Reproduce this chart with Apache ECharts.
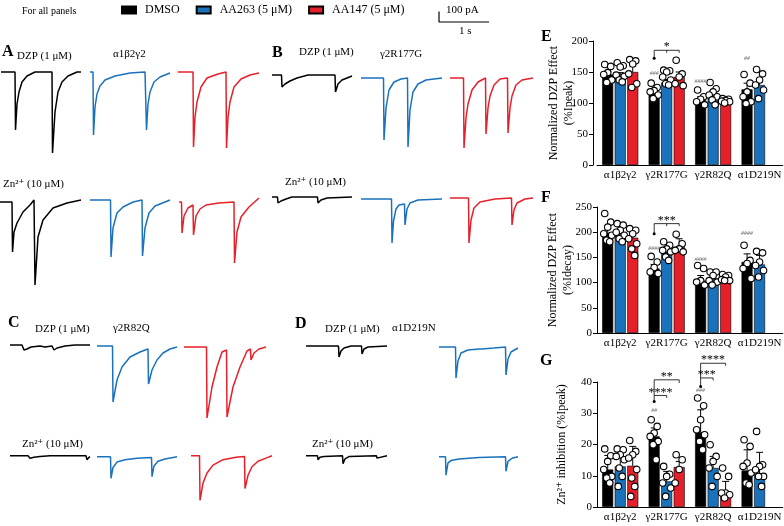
<!DOCTYPE html>
<html>
<head>
<meta charset="utf-8">
<script src="https://cdn.jsdelivr.net/npm/echarts/dist/echarts.min.js"></script>
<style>
html, body { margin: 0; padding: 0; background: #fff; }
#chart { width: 784px; height: 526px; }
</style>
</head>
<body>
<div id="chart"></div>
<script>
// ---- data ----
var categories = ['α1β2γ2', 'γ2R177G', 'γ2R82Q', 'α1D219N'];
var treatments = ['DMSO', 'AA263 (5 μM)', 'AA147 (5 μM)'];

// current traces, [time s, current pA], baseline = 0
var A_DZP_DMSO = [[0,0],[0.28,0],[0.29,-290],[0.32,-160],[0.36,-100],[0.42,-50],[0.52,-20],[0.68,0],[1.02,0],[1.03,-405],[1.08,-200],[1.14,-100],[1.22,-50],[1.34,-20],[1.52,0],[1.6,0]];
var A_DZP_AA263 = [[0,0],[0.06,0],[0.07,-315],[0.1,-175],[0.14,-110],[0.2,-70],[0.3,-40],[0.5,-20],[0.8,-5],[1.1,0],[1.12,0],[1.13,-290],[1.16,-160],[1.2,-100],[1.28,-50],[1.4,-25],[1.6,-5]];
var A_DZP_AA147 = [[0,0],[0.3,0],[0.31,-375],[0.34,-225],[0.38,-150],[0.46,-75],[0.58,-30],[0.8,-10],[0.96,0],[0.97,-380],[1.0,-225],[1.04,-150],[1.12,-75],[1.26,-35],[1.44,-15],[1.62,-5]];
var A_ZN_DMSO = [[0,0],[0.24,0],[0.25,-250],[0.28,-150],[0.34,-105],[0.46,-50],[0.6,-15],[0.68,10],[0.7,-415],[0.76,-175],[0.86,-90],[1.06,-30],[1.34,-5],[1.62,10]];
var A_ZN_AA263 = [[0,0],[0.41,0],[0.42,-285],[0.46,-140],[0.54,-65],[0.66,-35],[0.86,-10],[1.04,0],[1.05,-280],[1.1,-140],[1.18,-65],[1.3,-30],[1.5,-10],[1.6,0]];
var A_ZN_AA147 = [[0,0],[0.05,0],[0.06,-155],[0.1,-70],[0.18,-30],[0.28,-15],[0.29,-165],[0.34,-70],[0.42,-35],[0.54,-15],[0.8,-5],[1.1,0],[1.11,-305],[1.16,-150],[1.24,-75],[1.4,-25],[1.6,20]];

var B_DZP_DMSO = [[0,0],[0.19,0],[0.2,-60],[0.26,-45],[0.36,-30],[0.5,-15],[0.72,0],[1.26,0],[1.27,-85],[1.32,-45],[1.4,-25],[1.5,-15],[1.6,-5]];
var B_DZP_AA263 = [[0,0],[0.45,0],[0.46,-310],[0.5,-150],[0.56,-60],[0.66,-20],[0.8,-5],[0.93,0],[0.94,-345],[0.98,-160],[1.04,-70],[1.14,-30],[1.3,-10],[1.62,0]];
var B_DZP_AA147 = [[0,0],[0.27,0],[0.28,-350],[0.32,-200],[0.36,-130],[0.44,-60],[0.56,-20],[0.71,0],[0.72,-280],[0.76,-150],[0.8,-90],[0.88,-35],[1.0,-5],[1.15,0],[1.16,-275],[1.2,-150],[1.24,-90],[1.32,-35],[1.44,-10],[1.66,0]];
var B_ZN_DMSO = [[0,0],[0.11,0],[0.12,-30],[0.18,-20],[0.28,-10],[0.4,0],[0.91,0],[0.92,-30],[0.98,-15],[1.1,-5],[1.6,0]];
var B_ZN_AA263 = [[0,0],[0.61,0],[0.62,-220],[0.65,-110],[0.7,-50],[0.76,-30],[0.87,-25],[0.88,-130],[0.92,-50],[0.98,-20],[1.14,-5],[1.62,0]];
var B_ZN_AA147 = [[0,0],[0.37,0],[0.38,-225],[0.42,-110],[0.48,-50],[0.6,-20],[0.9,-5],[1.23,0],[1.24,-135],[1.28,-60],[1.34,-25],[1.5,-5],[1.66,0]];

var C_DZP_DMSO = [[0,0],[0.24,0],[0.28,-25],[0.34,-20],[0.42,-10],[0.6,-5],[0.64,-15],[0.7,-10],[0.84,-5],[0.88,-25],[0.94,-15],[1.1,-5],[1.3,0],[1.6,0]];
var C_DZP_AA263 = [[0,0],[0.31,0],[0.32,-280],[0.4,-170],[0.5,-105],[0.66,-55],[0.86,-30],[1.02,-15],[1.03,-190],[1.1,-120],[1.2,-70],[1.32,-35],[1.46,-15],[1.6,-5]];
var C_DZP_AA147 = [[0,0],[0.45,0],[0.46,-355],[0.56,-200],[0.66,-100],[0.76,-25],[0.78,-15],[0.85,-15],[0.86,-350],[0.98,-200],[1.12,-100],[1.26,-20],[1.33,-10],[1.34,-65],[1.4,-30],[1.5,-10],[1.64,0]];
var C_ZN_DMSO = [[0,0],[0.36,0],[0.4,-15],[0.48,-10],[0.6,-5],[0.8,0],[1.52,0],[1.54,-25],[1.58,-10],[1.6,-5]];
var C_ZN_AA263 = [[0,0],[0.27,0],[0.28,-140],[0.32,-70],[0.4,-35],[0.56,-20],[0.8,-10],[1.09,-5],[1.1,-130],[1.14,-60],[1.22,-30],[1.36,-15],[1.6,0]];
var C_ZN_AA147 = [[0,0],[0.17,0],[0.18,-285],[0.24,-175],[0.32,-110],[0.44,-60],[0.64,-25],[0.9,-10],[1.07,-5],[1.08,-210],[1.14,-125],[1.22,-70],[1.34,-35],[1.5,-15],[1.62,0]];

var D_DZP_DMSO = [[0,0],[0.65,0],[0.66,-55],[0.7,-25],[0.76,-10],[0.9,0],[1.11,0],[1.12,-40],[1.16,-15],[1.24,-5],[1.62,0]];
var D_DZP_AA263 = [[0,0],[0.33,0],[0.34,-155],[0.38,-70],[0.44,-30],[0.58,-15],[0.8,-10],[0.82,-20],[0.86,-10],[1.1,-5],[1.33,0],[1.34,-140],[1.38,-60],[1.44,-25],[1.58,-5]];
var D_ZN_DMSO = [[0,0],[0.23,0],[0.24,-25],[0.28,-10],[0.36,-5],[0.73,0],[0.74,-50],[0.78,-20],[0.86,-5],[1.41,0],[1.42,-15],[1.46,-5],[1.62,0]];
var D_ZN_AA263 = [[0,0],[0.13,0],[0.14,-120],[0.18,-40],[0.24,-25],[0.4,-15],[0.8,-5],[1.33,0],[1.34,-95],[1.38,-30],[1.46,-10],[1.58,0]];

// scale bar: 100 pA / 1 s
var SCALE_BAR = [[0,100],[0,0],[1,0]];

// E: normalized DZP effect (%Ipeak)
var E_DMSO = [146, 117, 105, 122];
var E_AA263 = [144, 133, 116, 129];
var E_AA147 = [150, 142, 103, null];
var E_ERR_DMSO = [5, 4, 5, 10];
var E_ERR_AA263 = [5, 5, 4, 5];
var E_ERR_AA147 = [10, 8, 2, null];
var E_PTS_DMSO = [[162,159,149,146,137,133],[132,125,120,118,113,107],[121,110,106,102,97],[146,132,118,110,102,99]];
var E_PTS_AA263 = [[165,160,158,145,143,137,134],[153,152,150,142,137,131,129],[133,123,118,113,110,105,97],[154,147,137,129,121,107]];
var E_PTS_AA147 = [[170,168,163,147,131,125],[169,147,142,131,128],[107,106,104,103,102,100],[]];

// F: normalized DZP effect (%Idecay)
var F_DMSO = [199, 128, 104, 141];
var F_AA263 = [197, 162, 108, 136];
var F_AA147 = [189, 171, 106, null];
var F_ERR_DMSO = [8, 8, 10, 16];
var F_ERR_AA263 = [6, 8, 4, 18];
var F_ERR_AA147 = [12, 16, 3, null];
var F_PTS_DMSO = [[237,220,210,197,194,184,181],[152,141,130,121,118],[134,128,104,101,95],[174,144,138,128,108]];
var F_PTS_AA263 = [[217,214,204,200,194,187,181],[181,174,167,164,161,151,144],[121,121,114,104,101,95],[162,159,141,134,124,111]];
var F_PTS_AA147 = [[207,204,197,187,177,167,154],[196,177,167,164,161],[116,114,111,106,104,104],[]];

// G: Zn2+ inhibition (%Ipeak)
var G_DMSO = [12, 22.6, 24, 11.7];
var G_AA263 = [13, 8.2, 12.5, 10.7];
var G_AA147 = [13.2, 12.8, 3.7, null];
var G_ERR_DMSO = [4.5, 2.7, 7.1, 6.6];
var G_ERR_AA263 = [3.7, 3.2, 3.7, 6.8];
var G_ERR_AA147 = [6.2, 1.8, 4.5, null];
var G_PTS_DMSO = [[18.6,16.4,14.6,12,9.8,9.3,7.7],[27.9,25.8,23.7,22.6,21,19.9,15.1],[34.9,32.4,27.9,24.7,23.1,21,18.3],[21.5,19.4,14.1,13,10.9,7.7,7.1]];
var G_PTS_AA263 = [[18.6,18.3,16.7,16.2,15.1,12.5,9.8,6.6],[13,10.5,9.8,7.7,6.1,3.4],[19.9,16.2,14.6,12.5,9.8,6.6],[24.2,13.5,13,11.9,9.8,9.8,6.6]];
var G_PTS_AA147 = [[21.3,17.8,16.7,15.7,12,9.3,6.6,3.4],[16.7,15.1,12,7.7],[12.5,9.8,4.5,4.5,3.9,2.9],[]];

// significance brackets (bar index 0 = DMSO, 1 = AA263, 2 = AA147)
var E_BRACKETS = [{cat: 1, from: 0, to: 2, y: 185, yFrom: 172, yTo: 181, ticks: [1], label: '*'}];
var F_BRACKETS = [{cat: 1, from: 0, to: 2, y: 217, yFrom: 197, yTo: 212, ticks: [1], label: '***'}];
var G_BRACKETS = [
    {cat: 1, from: 0, to: 2, y: 40.7, yFrom: 33.8, yTo: 39.7, label: '**'},
    {cat: 1, from: 0, to: 1, y: 35.7, yFrom: null, yTo: 34.9, label: '****'},
    {cat: 2, from: 0, to: 2, y: 46, yFrom: 38.6, yTo: 45.2, label: '****'},
    {cat: 2, from: 0, to: 1, y: 41.3, yFrom: null, yTo: 40.5, label: '***'}
];
// "#" marks vs wild type
var E_HASH = [{cat: 1, y: 148, text: '###'}, {cat: 2, y: 134, text: '####'}, {cat: 3, y: 172, text: '##'}];
var F_HASH = [{cat: 1, y: 168, text: '####'}, {cat: 2, y: 146, text: '####'}, {cat: 3, y: 198, text: '####'}];
var G_HASH = [{cat: 1, y: 30.8, text: '##'}, {cat: 2, y: 37.2, text: '###'}];

// ---- chart ----
var SERIF = '"Liberation Serif", "DejaVu Serif", serif';
var COLORS = ['#000000', '#1a72bb', '#e5202a'];
var PX_PER_S = 50, PX_PER_PA = 0.2;
var BAR_W = 11, BAR_STEP = 12.5;
var JIT = [-3, 3, 0, -4, 4, -1, 2, -2];

var dom = document.getElementById('chart');
var myChart = echarts.init(dom, null, { renderer: 'canvas' });

var grid = [], xAxis = [], yAxis = [], series = [];

function barOffset(k) { return (k - 1) * BAR_STEP; }

function addTrace(data, color, left, base) {
    var i = grid.length;
    grid.push({ left: left, top: base - 10, width: 100, height: 100 });
    xAxis.push({ gridIndex: i, type: 'value', min: 0, max: 100 / PX_PER_S, show: false });
    yAxis.push({ gridIndex: i, type: 'value', min: -90 / PX_PER_PA, max: 10 / PX_PER_PA, show: false });
    series.push({
        type: 'line', xAxisIndex: i, yAxisIndex: i, data: data,
        symbol: 'none', silent: true,
        lineStyle: { color: color, width: 1.5 }
    });
}

// trace placement: data, colour, left px, baseline px
[
    [A_DZP_DMSO, 0, 1, 72], [A_DZP_AA263, 1, 90, 72], [A_DZP_AA147, 2, 178, 72],
    [A_ZN_DMSO, 0, 0, 202], [A_ZN_AA263, 1, 90, 200], [A_ZN_AA147, 2, 179, 202],
    [B_DZP_DMSO, 0, 272, 75], [B_DZP_AA263, 1, 361, 78], [B_DZP_AA147, 2, 450, 78],
    [B_ZN_DMSO, 0, 272, 197], [B_ZN_AA263, 1, 361, 199], [B_ZN_AA147, 2, 450, 198],
    [C_DZP_DMSO, 0, 10, 345], [C_DZP_AA263, 1, 97, 346], [C_DZP_AA147, 2, 184, 347],
    [C_ZN_DMSO, 0, 10, 458], [C_ZN_AA263, 1, 97, 459], [C_ZN_AA147, 2, 191, 458],
    [D_DZP_DMSO, 0, 306, 346], [D_DZP_AA263, 1, 439, 347],
    [D_ZN_DMSO, 0, 306, 458], [D_ZN_AA263, 1, 439, 459]
].forEach(function (t) { addTrace(t[0], COLORS[t[1]], t[2], t[3]); });

addTrace(SCALE_BAR, '#000', 439, 22);
series[series.length - 1].lineStyle.width = 1.2;

function addBarPanel(p) {
    var i = grid.length;
    grid.push({ left: p.left, top: p.top, width: 189, height: p.height });
    xAxis.push({
        gridIndex: i, type: 'category', data: categories,
        axisLine: { lineStyle: { color: '#000', width: 1 } },
        axisTick: { alignWithLabel: true, length: 4, lineStyle: { color: '#000' } },
        axisLabel: { interval: 0, color: '#000', fontFamily: SERIF, fontSize: 11, margin: 5 }
    });
    yAxis.push({
        gridIndex: i, type: 'value', min: 0, max: p.max, interval: p.interval, offset: p.offset,
        name: p.name, nameLocation: 'middle', nameGap: p.nameGap, nameMoveOverlap: false,
        nameTextStyle: { color: '#000', fontFamily: SERIF, fontSize: 12, lineHeight: 15 },
        axisLine: { show: true, lineStyle: { color: '#000', width: 1 } },
        axisTick: { show: true, length: 4, lineStyle: { color: '#000' } },
        splitLine: { show: false },
        axisLabel: { color: '#000', fontFamily: SERIF, fontSize: 11, margin: 5 }
    });
    var errData = [], dots = [];
    treatments.forEach(function (name, k) {
        series.push({
            type: 'bar', name: name, xAxisIndex: i, yAxisIndex: i, data: p.means[k],
            barWidth: BAR_W, barGap: '14%', silent: true, z: 2,
            itemStyle: { color: COLORS[k], borderColor: '#000', borderWidth: 0.6 }
        });
        p.means[k].forEach(function (m, c) {
            if (m == null) return;
            errData.push([c, m, m + p.errs[k][c], k]);
            p.pts[k][c].forEach(function (v, j) {
                dots.push({ value: [c, v], symbolOffset: [barOffset(k) + JIT[j % JIT.length], 0] });
            });
        });
    });
    series.push({
        type: 'custom', xAxisIndex: i, yAxisIndex: i, z: 3, silent: true, clip: false,
        data: errData,
        renderItem: function (params, api) {
            var c = api.value(0), k = api.value(3);
            var p0 = api.coord([c, api.value(1)]), p1 = api.coord([c, api.value(2)]);
            var x = p0[0] + barOffset(k);
            return { type: 'group', children: [
                { type: 'line', shape: { x1: x, y1: p0[1], x2: x, y2: p1[1] }, style: { stroke: '#000', lineWidth: 1 } },
                { type: 'line', shape: { x1: x - 3.5, y1: p1[1], x2: x + 3.5, y2: p1[1] }, style: { stroke: '#000', lineWidth: 1 } }
            ] };
        }
    });
    series.push({
        type: 'scatter', xAxisIndex: i, yAxisIndex: i, z: 4, silent: true,
        data: dots, symbol: 'circle', symbolSize: 6.5,
        itemStyle: { color: '#fff', borderColor: '#000', borderWidth: 1.1, opacity: 1 }
    });
    var br = p.brackets, hs = p.hash;
    series.push({
        type: 'custom', xAxisIndex: i, yAxisIndex: i, z: 5, silent: true, clip: false,
        data: br.map(function (b) { return [b.cat, b.y]; }).concat(hs.map(function (h) { return [h.cat, h.y]; })),
        renderItem: function (params, api) {
            var idx = params.dataIndex;
            if (idx < br.length) {
                var b = br[idx];
                var pc = api.coord([b.cat, b.y]);
                var xl = pc[0] + barOffset(b.from), xr = pc[0] + barOffset(b.to), y = pc[1];
                var yl = b.yFrom != null ? api.coord([b.cat, b.yFrom])[1] : y;
                var yr = api.coord([b.cat, b.yTo])[1];
                var ch = [{ type: 'polyline', shape: { points: [[xl, yl], [xl, y], [xr, y], [xr, yr]] },
                            style: { stroke: '#000', lineWidth: 0.8, fill: null } }];
                if (b.yFrom != null) ch.push({ type: 'circle', shape: { cx: xl, cy: yl, r: 1.5 }, style: { fill: '#000' } });
                (b.ticks || []).forEach(function (t) {
                    var xt = pc[0] + barOffset(t);
                    ch.push({ type: 'line', shape: { x1: xt, y1: y, x2: xt, y2: yr }, style: { stroke: '#000', lineWidth: 0.8 } });
                });
                ch.push({ type: 'text', style: { text: b.label, x: (xl + xr) / 2, y: y + 3, textAlign: 'center', textVerticalAlign: 'bottom',
                                                 font: '12px ' + SERIF, fill: '#000' } });
                return { type: 'group', children: ch };
            }
            var h = hs[idx - br.length];
            var ph = api.coord([h.cat, h.y]);
            return { type: 'text', style: { text: h.text, x: ph[0] + barOffset(0), y: ph[1], textAlign: 'center', textVerticalAlign: 'middle',
                                            font: 'italic 6px ' + SERIF, fill: '#666' } };
        }
    });
}

addBarPanel({ left: 597, top: 41, height: 124, max: 200, interval: 50, offset: 4,
    name: 'Normalized DZP Effect\n(%Ipeak)', nameGap: 17,
    means: [E_DMSO, E_AA263, E_AA147], errs: [E_ERR_DMSO, E_ERR_AA263, E_ERR_AA147],
    pts: [E_PTS_DMSO, E_PTS_AA263, E_PTS_AA147], brackets: E_BRACKETS, hash: E_HASH });
addBarPanel({ left: 597, top: 207, height: 126, max: 250, interval: 50, offset: 0,
    name: 'Normalized DZP Effect\n(%Idecay)', nameGap: 22,
    means: [F_DMSO, F_AA263, F_AA147], errs: [F_ERR_DMSO, F_ERR_AA263, F_ERR_AA147],
    pts: [F_PTS_DMSO, F_PTS_AA263, F_PTS_AA147], brackets: F_BRACKETS, hash: F_HASH });
addBarPanel({ left: 597, top: 382, height: 125, max: 40, interval: 10, offset: 0,
    name: 'Zn²⁺ inhibition (%Ipeak)', nameGap: 28,
    means: [G_DMSO, G_AA263, G_AA147], errs: [G_ERR_DMSO, G_ERR_AA263, G_ERR_AA147],
    pts: [G_PTS_DMSO, G_PTS_AA263, G_PTS_AA147], brackets: G_BRACKETS, hash: G_HASH });

function txt(s, x, y, size, bold) {
    return { type: 'text', left: x, top: y - size * 0.6, silent: true,
             style: { text: s, font: (bold ? 'bold ' : '') + size + 'px ' + SERIF, fill: '#000' } };
}

var option = {
    animation: false,
    backgroundColor: '#fff',
    legend: {
        left: 121, top: 4, padding: 0, itemWidth: 14, itemHeight: 7, itemGap: 16, icon: 'rect',
        selectedMode: false, data: treatments,
        textStyle: { fontFamily: SERIF, fontSize: 12, color: '#000', padding: [0, 0, 0, 4] }
    },
    grid: grid, xAxis: xAxis, yAxis: yAxis, series: series,
    graphic: [
        txt('For all panels', 22, 12, 10),
        txt('100 pA', 446, 11, 11), txt('1 s', 459, 32, 11),
        txt('A', 2, 53, 16, true), txt('DZP (1 μM)', 17, 57, 11), txt('α1β2γ2', 113, 55, 11), txt('Zn²⁺ (10 μM)', 3, 185, 11),
        txt('B', 272, 54, 16, true), txt('DZP (1 μM)', 299, 53, 11), txt('γ2R177G', 380, 55, 11), txt('Zn²⁺ (10 μM)', 285, 183, 11),
        txt('C', 8, 324, 16, true), txt('DZP (1 μM)', 35, 330, 11), txt('γ2R82Q', 113, 329, 11), txt('Zn²⁺ (10 μM)', 22, 445, 11),
        txt('D', 295, 325, 16, true), txt('DZP (1 μM)', 325, 330, 11), txt('α1D219N', 392, 329, 11), txt('Zn²⁺ (10 μM)', 312, 445, 11),
        txt('E', 541, 38, 16, true), txt('F', 541, 199, 16, true), txt('G', 540, 362, 16, true)
    ]
};

if (option && typeof option === 'object') {
    myChart.setOption(option);
}
</script>
</body>
</html>
